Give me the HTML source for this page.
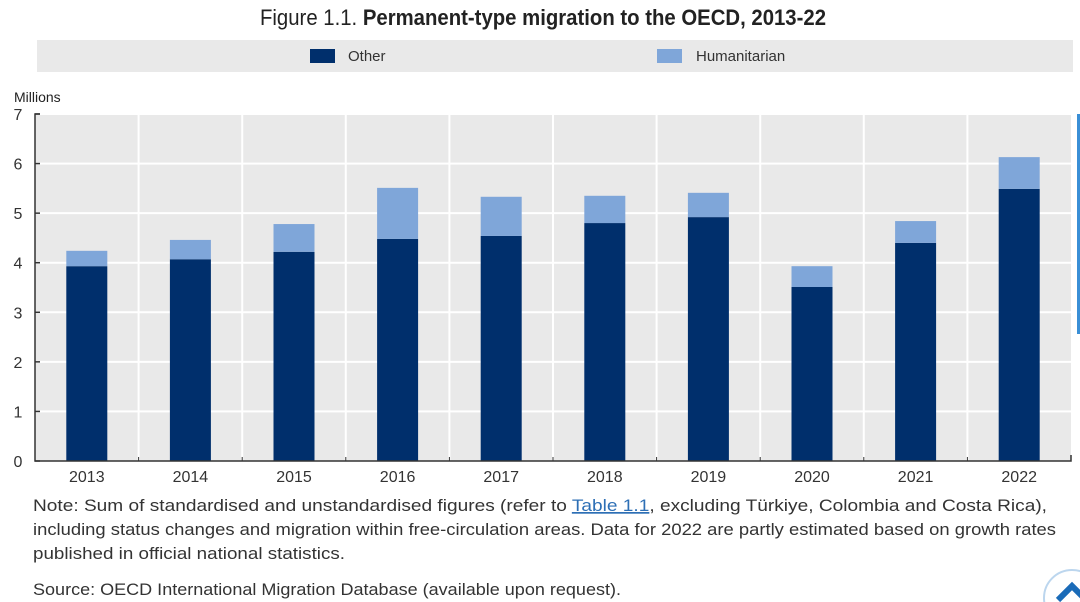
<!DOCTYPE html>
<html><head><meta charset="utf-8"><style>
html,body{margin:0;padding:0;background:#fff;width:1080px;height:602px;overflow:hidden}
svg{display:block;font-family:"Liberation Sans Narrow","Liberation Sans",sans-serif}
</style></head><body>
<svg id="chart" width="1080" height="602" viewBox="0 0 1080 602">
<text x="543" y="25" text-anchor="middle" font-size="22" fill="#222" textLength="566" lengthAdjust="spacingAndGlyphs">Figure 1.1. <tspan font-weight="bold">Permanent-type migration to the OECD, 2013-22</tspan></text>
<rect x="37" y="40" width="1036" height="32" fill="#e9e9e9"/>
<g><rect x="310" y="49" width="25" height="14" fill="#002f6c"/><text x="348" y="61" font-size="15" fill="#333">Other</text></g>
<g><rect x="657" y="49" width="25" height="14" fill="#7fa6d9"/><text x="696" y="61" font-size="15" fill="#333">Humanitarian</text></g>
<text x="14" y="102" font-size="14" fill="#222">Millions</text>
<rect x="35" y="114" width="1036" height="347" fill="#e9e9e9"/>
<g id="grid"></g><g id="bars"></g><g id="axes"></g>
<g font-family="Liberation Sans, sans-serif" font-size="17" fill="#333">
<text x="33" y="511" textLength="1014" lengthAdjust="spacingAndGlyphs">Note: Sum of standardised and unstandardised figures (refer to <tspan fill="#2d6fb5" text-decoration="underline">Table 1.1</tspan>, excluding Türkiye, Colombia and Costa Rica),</text>
<text x="33" y="535" textLength="1023" lengthAdjust="spacingAndGlyphs">including status changes and migration within free-circulation areas. Data for 2022 are partly estimated based on growth rates</text>
<text x="33" y="559" textLength="312" lengthAdjust="spacingAndGlyphs">published in official national statistics.</text>
<text x="33" y="595" textLength="588" lengthAdjust="spacingAndGlyphs">Source: OECD International Migration Database (available upon request).</text>
</g>
<rect x="1077" y="114" width="3" height="220" fill="#3a8fd6"/>
<g><circle cx="1072" cy="598" r="28" fill="#fff" stroke="#bcd6ee" stroke-width="2"/><path d="M1058 600 L1072 586 L1086 600" stroke="#1a6bb8" stroke-width="6" fill="none"/></g>
</svg>
<script>
const categories=["2013","2014","2015","2016","2017","2018","2019","2020","2021","2022"];
const otherValues=[3.93,4.07,4.22,4.48,4.54,4.80,4.92,3.51,4.40,5.49];
const humanitarianValues=[0.31,0.39,0.56,1.03,0.79,0.55,0.49,0.42,0.44,0.64];
const yTicks=[0,1,2,3,4,5,6,7];
const NS="http://www.w3.org/2000/svg";
const X0=35,X1=1071,Y0=461,Y1=114,YMAX=7;
const band=(X1-X0)/categories.length,bw=41;
const y=v=>Y0-(v/YMAX)*(Y0-Y1);
const xc=i=>X0+band*(i+0.5);
function mk(t,a,p){const e=document.createElementNS(NS,t);for(const k in a)e.setAttribute(k,a[k]);p.appendChild(e);return e;}
const grid=document.getElementById('grid'),bars=document.getElementById('bars'),axes=document.getElementById('axes');
yTicks.forEach(t=>{
 if(t>0){const l=mk('line',{x1:X0,x2:X1,y1:y(t),y2:y(t),stroke:'#fff','stroke-width':2},grid);
 
 }
 const tk=mk('line',{x1:X0,x2:X0+5,y1:y(t),y2:y(t),stroke:'#333','stroke-width':1.5},axes);
 
 
 const tx=mk('text',{x:18,y:y(t)+6,'text-anchor':'middle','font-size':16,fill:'#333'},axes);
 tx.textContent=t;
 
 
});
for(let i=1;i<categories.length;i++){
 const gx=X0+band*i;
 const l=mk('line',{x1:gx,x2:gx,y1:Y1,y2:Y0,stroke:'#fff','stroke-width':2},grid);
 
 
 const tk=mk('line',{x1:gx,x2:gx,y1:Y0-4,y2:Y0,stroke:'#333','stroke-width':1},axes);
 
 
}
categories.forEach((c,i)=>{
 const o=otherValues[i],h=humanitarianValues[i];
 const r1=mk('rect',{x:xc(i)-bw/2,y:y(o),width:bw,height:Y0-y(o),fill:'#002f6c'},bars);
 
 
 const r2=mk('rect',{x:xc(i)-bw/2,y:y(o+h),width:bw,height:y(o)-y(o+h),fill:'#7fa6d9'},bars);
 
 
 const t=mk('text',{x:xc(i),y:482,'text-anchor':'middle','font-size':16,fill:'#333'},axes);
 t.textContent=c;
 
 
});
const ya=mk('path',{d:`M${X0+5} ${Y1} H${X0} V${Y0} H${X1} V${Y0-6}`,stroke:'#333','stroke-width':1.5,fill:'none'},axes);


</script>
</body></html>
